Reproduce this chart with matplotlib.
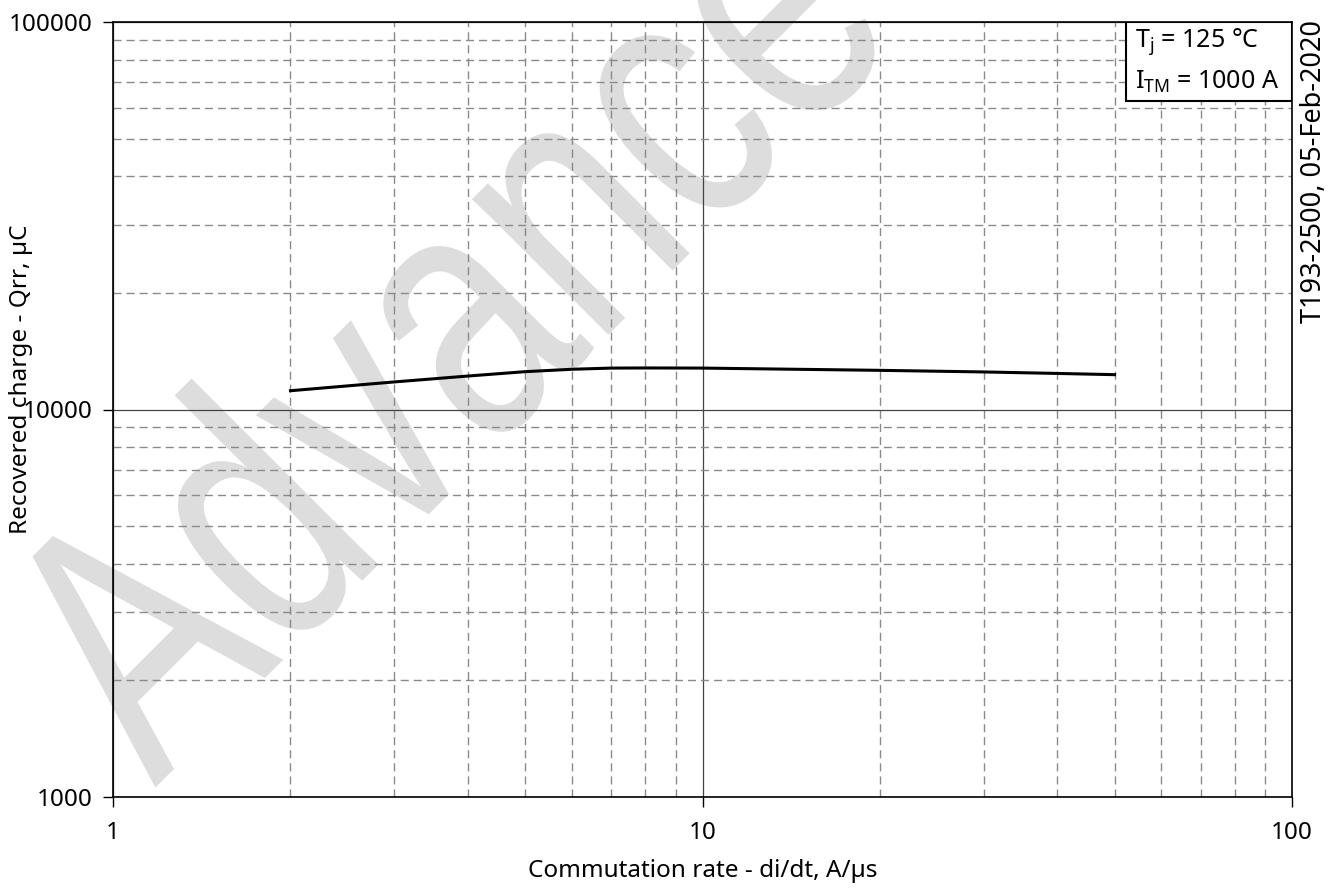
import matplotlib
matplotlib.use('Agg')
import matplotlib.pyplot as plt
import matplotlib.patheffects as patheffects
from matplotlib.patches import Rectangle
from matplotlib.ticker import LogLocator, NullFormatter
from matplotlib.transforms import Affine2D

plt.rcParams['font.family'] = ['Noto Sans', 'DejaVu Sans']
plt.rcParams['mathtext.default'] = 'regular'

# Qrr vs di/dt, Tj = 125 C, ITM = 1000 A
didt = [2, 3, 4, 5, 6, 7, 8, 10, 20, 30, 40, 50]
qrr = [11180, 11780, 12200, 12520, 12700, 12790, 12800, 12790, 12620, 12500, 12390, 12300]

xtick_vals = [1, 10, 100]
xtick_labels = ['1', '10', '100']
ytick_vals = [1000, 10000, 100000]
ytick_labels = ['1000', '10000', '100000']

cond_lines = [r'T$_{j}$ = 125 °C', r'I$_{TM}$ = 1000 A']
side_note = 'T193-2500, 05-Feb-2020'
watermark = 'Advance'


class Squeeze(patheffects.AbstractPathEffect):
    # narrows glyphs along the baseline, the watermark font is condensed
    def __init__(self, sx):
        super().__init__()
        self.sx = sx

    def draw_path(self, renderer, gc, tpath, affine, rgbFace=None):
        renderer.draw_path(gc, tpath, Affine2D().scale(self.sx, 1.0) + affine, rgbFace)


fig = plt.figure(figsize=(13.31, 8.91), dpi=100)
fig.patch.set_facecolor('white')

W, H = 1331, 891
ax = fig.add_axes([113 / W, 94 / H, 1179 / W, 775 / H])
ax.set_facecolor('none')

fig.text(155 / W, 1 - 788 / H, watermark, rotation=45, rotation_mode='anchor',
         ha='left', va='baseline', fontsize=262, color='#dddddd',
         family='Liberation Sans', zorder=-1, path_effects=[Squeeze(0.75)])

ax.plot(didt, qrr, color='black', lw=2.2, zorder=4)

ax.set_xscale('log')
ax.set_yscale('log')
ax.set_xlim(1, 100)
ax.set_ylim(1000, 100000)

ax.set_xticks(xtick_vals, labels=xtick_labels)
ax.set_yticks(ytick_vals, labels=ytick_labels)
ax.xaxis.set_minor_locator(LogLocator(base=10, subs=range(2, 10)))
ax.yaxis.set_minor_locator(LogLocator(base=10, subs=range(2, 10)))
ax.xaxis.set_minor_formatter(NullFormatter())
ax.yaxis.set_minor_formatter(NullFormatter())

ax.tick_params(which='major', direction='out', length=7.5, width=1, labelsize=17.5, color='black')
ax.tick_params(axis='x', which='major', pad=10)
ax.tick_params(axis='y', which='major', pad=7)
ax.tick_params(which='minor', length=0)

ax.grid(True, which='major', color='#444444', lw=0.9, ls='-')
ax.grid(True, which='minor', color='#8a8a8a', lw=1.0, ls=(0, (5.8, 3.6)))
ax.set_axisbelow(True)

for s in ax.spines.values():
    s.set_color('black')
    s.set_linewidth(1.2)

ax.set_xlabel('Commutation rate - di/dt, A/µs', fontsize=17.5, labelpad=10)
ax.set_ylabel('Recovered charge - Qrr, µC', fontsize=17.5)
ax.yaxis.set_label_coords(-0.068, 0.539)

# conditions box in the top right corner
bw, bh = 166 / 1179, 79 / 775
ax.add_patch(Rectangle((1 - bw, 1 - bh), bw, bh, transform=ax.transAxes,
                       facecolor='white', edgecolor='black', lw=1.5, zorder=5))
ax.text(0.8668, 0.9677, cond_lines[0], transform=ax.transAxes, fontsize=18,
        ha='left', va='baseline', zorder=6)
ax.text(0.8668, 0.9135, cond_lines[1], transform=ax.transAxes, fontsize=18,
        ha='left', va='baseline', zorder=6)

fig.text(1314 / W, 1 - 20 / H, side_note, rotation=90, ha='center', va='top', fontsize=19.5)

fig.savefig('out.png', dpi=100)
